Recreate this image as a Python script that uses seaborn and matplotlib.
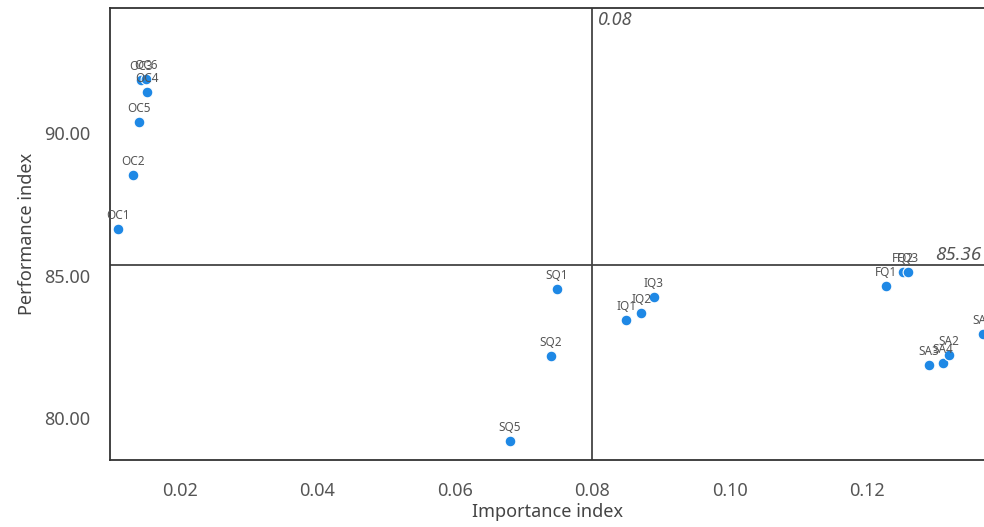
import pandas as pd
import matplotlib
matplotlib.use("Agg")
import matplotlib.pyplot as plt
import seaborn as sns

# Importance-performance points
labels = ["OC1", "OC2", "OC5", "OC4", "OC3", "OC6",
          "SQ1", "SQ2", "SQ5",
          "IQ1", "IQ2", "IQ3",
          "FQ1", "FQ2", "FQ3",
          "SA3", "SA4", "SA2", "SA1"]
importance = [0.0110, 0.0132, 0.0140, 0.0152, 0.0143, 0.0150,
              0.0748, 0.0740, 0.0680,
              0.0849, 0.0871, 0.0889,
              0.1228, 0.1252, 0.1260,
              0.1290, 0.1310, 0.1319, 0.1368]
performance = [86.65, 88.53, 90.39, 91.45, 91.88, 91.90,
               84.54, 82.19, 79.19,
               83.46, 83.70, 84.26,
               84.65, 85.12, 85.12,
               81.88, 81.95, 82.23, 82.96]

x_mean = 0.08
y_mean = 85.36

df = pd.DataFrame({"label": labels, "imp": importance, "perf": performance})

sns.set_style("white")
plt.rcParams['font.family'] = ['Noto Sans', 'DejaVu Sans']

fig = plt.figure(figsize=(9.84, 5.27), dpi=100)
ax = fig.add_axes([0.1118, 0.1271, 0.8882, 0.8577])

sns.scatterplot(data=df, x="imp", y="perf", ax=ax, color="#1E88E5",
                s=60, edgecolor="white", linewidth=0.8, zorder=3)

for _, r in df.iterrows():
    ax.annotate(r["label"], (r["imp"], r["perf"]), xytext=(0, 5),
                textcoords="offset points", ha="center", va="bottom",
                fontsize=8.5, color="#555555", zorder=4)

ax.axvline(x_mean, color="#444444", lw=1.3, zorder=1)
ax.axhline(y_mean, color="#444444", lw=1.3, zorder=1)
ax.text(x_mean + 0.0008, 94.3, f"{x_mean:.2f}", style="italic",
        fontsize=13, color="#555555", ha="left", va="top")
ax.text(0.1366, y_mean + 0.05, f"{y_mean:.2f}", style="italic",
        fontsize=13.5, color="#555555", ha="right", va="bottom")

ax.set_xlim(0.0098, 0.137)
ax.set_ylim(78.53, 94.39)
ax.set_xticks([0.02, 0.04, 0.06, 0.08, 0.10, 0.12])
ax.set_xticklabels(["0.02", "0.04", "0.06", "0.08", "0.10", "0.12"])
ax.set_yticks([80, 85, 90])
ax.set_yticklabels(["80.00", "85.00", "90.00"])
ax.tick_params(axis="both", direction="out", length=4, width=1,
               color="#444444", labelsize=13, labelcolor="#555555")
ax.tick_params(axis="x", pad=12)
ax.tick_params(axis="y", pad=10)

for side in ["left", "bottom", "top"]:
    ax.spines[side].set_color("#333333")
    ax.spines[side].set_linewidth(1.3)
ax.spines["right"].set_visible(False)

ax.set_xlabel("Importance index", fontsize=13, color="#444444", labelpad=2)
ax.set_ylabel("Performance index", fontsize=13, color="#444444", labelpad=6)

fig.savefig("out.png", dpi=100)
